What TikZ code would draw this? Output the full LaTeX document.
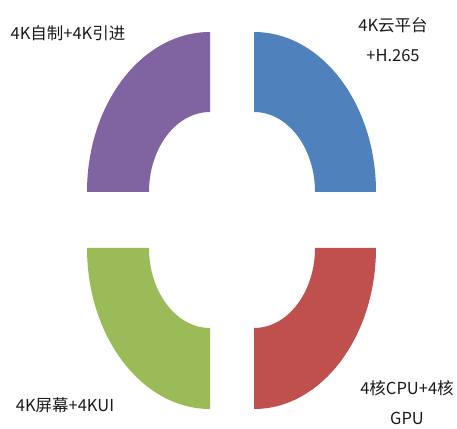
\documentclass[tikz,border=0pt]{standalone}
\usepackage{fontspec}
\setmainfont{Noto Sans CJK SC}
\definecolor{segpurple}{HTML}{8064A2}
\definecolor{segblue}{HTML}{4F81BD}
\definecolor{seggreen}{HTML}{9BBB59}
\definecolor{segred}{HTML}{C0504D}
\definecolor{txt}{HTML}{1A1A1A}
\begin{document}
\begin{tikzpicture}[x=1pt,y=1pt,
  lbl/.style={text=txt,font=\fontsize{16.5}{30}\selectfont,inner sep=0pt,align=center}]
\useasboundingbox (0,0) rectangle (457,428);
% top-right (blue), center (254,236)
\fill[segblue] (254,316) -- (254,396)
  arc[start angle=90,end angle=0,x radius=122pt,y radius=160pt]
  -- (315,236)
  arc[start angle=0,end angle=90,x radius=61pt,y radius=80pt] -- cycle;
% top-left (purple), center (210,236)
\fill[segpurple] (210,316) -- (210,396)
  arc[start angle=90,end angle=180,x radius=123pt,y radius=160pt]
  -- (149,236)
  arc[start angle=180,end angle=90,x radius=61pt,y radius=80pt] -- cycle;
% bottom-left (green), center (210,180)
\fill[seggreen] (210,100) -- (210,19)
  arc[start angle=270,end angle=180,x radius=123pt,y radius=161pt]
  -- (149,180)
  arc[start angle=180,end angle=270,x radius=61pt,y radius=80pt] -- cycle;
% bottom-right (red), center (254,180)
\fill[segred] (254,100) -- (254,19)
  arc[start angle=270,end angle=360,x radius=122pt,y radius=161pt]
  -- (315,180)
  arc[start angle=360,end angle=270,x radius=61pt,y radius=80pt] -- cycle;
% labels
\node[lbl] (tl) at (68,395) {4K自制+4K引进};
\node[lbl] (tr) at (393,388) {4K云平台\\+H.265};
\node[lbl] (bl) at (65,23) {4K屏幕+4KUI};
\node[lbl] (br) at (407,25) {4核CPU+4核\\GPU};
\end{tikzpicture}
\end{document}
